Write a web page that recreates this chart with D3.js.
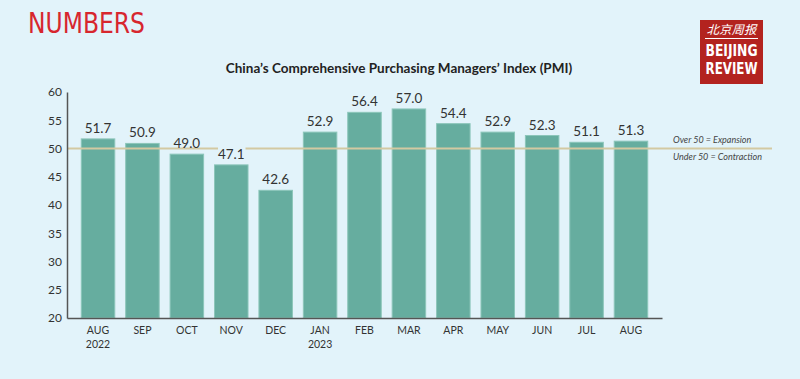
<!DOCTYPE html>
<html><head><meta charset="utf-8">
<script src="https://cdn.jsdelivr.net/npm/d3@7"></script>
<style>
html,body{margin:0;padding:0;background:#e2f3fa;}
svg{display:block;}
</style></head>
<body>
<svg id="c" width="800" height="379"></svg>
<script>
const months = ["AUG","SEP","OCT","NOV","DEC","JAN","FEB","MAR","APR","MAY","JUN","JUL","AUG "];
const years = ["2022","","","","","2023","","","","","","",""];
const pmi = [51.7,50.9,49.0,47.1,42.6,52.9,56.4,57.0,54.4,52.9,52.3,51.1,51.3];
const yTicks = [20,25,30,35,40,45,50,55,60];
const threshold = 50;
const title = "China\u2019s Comprehensive Purchasing Managers\u2019 Index (PMI)";
const notes = ["Over 50 = Expansion","Under 50 = Contraction"];

const svg = d3.select("#c");
svg.append("rect").attr("width",800).attr("height",379).attr("fill","#e2f3fa");

// Header
svg.append("text").attr("x",28).attr("y",33).text("NUMBERS")
  .attr("font-family","'Liberation Sans Narrow','DejaVu Sans Condensed',sans-serif")
  .attr("font-size",29).attr("fill","#d7262e").attr("textLength",117).attr("lengthAdjust","spacingAndGlyphs");

// Logo
const lg = svg.append("g");
lg.append("rect").attr("x",700).attr("y",20).attr("width",63).attr("height",64).attr("fill","#b3231f");
lg.append("text").attr("x",731.5).attr("y",34).attr("text-anchor","middle").text("北京周报")
  .attr("font-family","'Noto Sans CJK SC',sans-serif").attr("font-size",12).attr("font-style","italic").attr("fill","#fff")
  .attr("textLength",50).attr("lengthAdjust","spacingAndGlyphs");
lg.append("line").attr("x1",705).attr("x2",758).attr("y1",38.5).attr("y2",38.5).attr("stroke","#fff").attr("stroke-width",1);
lg.append("text").attr("x",731.5).attr("y",56).attr("text-anchor","middle").text("BEIJING")
  .attr("font-family","'DejaVu Sans Condensed',sans-serif").attr("font-weight","bold").attr("font-size",16).attr("fill","#fff")
  .attr("textLength",52).attr("lengthAdjust","spacingAndGlyphs");
lg.append("text").attr("x",731.5).attr("y",74).attr("text-anchor","middle").text("REVIEW")
  .attr("font-family","'DejaVu Sans Condensed',sans-serif").attr("font-weight","bold").attr("font-size",16).attr("fill","#fff")
  .attr("textLength",52).attr("lengthAdjust","spacingAndGlyphs");

// Title
svg.append("text").attr("x",399).attr("y",73).attr("text-anchor","middle").text(title)
  .attr("font-family","Lato,sans-serif").attr("font-weight","bold").attr("font-size",13.5).attr("fill","#222");

const x = d3.scaleBand().domain(months).range([67,662]).paddingInner(0.223).paddingOuter(0.31);
const y = d3.scaleLinear().domain([20,60]).range([318,92]);

// Bars
svg.append("g").selectAll("rect").data(pmi).join("rect")
  .attr("x",(d,i)=>x(months[i])+0.5).attr("width",x.bandwidth()-1)
  .attr("y",d=>y(d)).attr("height",d=>y(20)-y(d))
  .attr("fill","#66ad9f").attr("stroke","#8cc6ba").attr("stroke-width",1);

// Threshold line (gap behind the NOV label)
const gapIdx = 3;
const gx0 = x(months[gapIdx])+4, gx1 = x(months[gapIdx])+x.bandwidth()-3;
[[x.range()[0],gx0],[gx1,772]].forEach(s=>{
  svg.append("line").attr("x1",s[0]).attr("x2",s[1]).attr("y1",y(threshold)).attr("y2",y(threshold))
    .attr("stroke","#d3c9a2").attr("stroke-width",2);
});

// Value labels
svg.append("g").selectAll("text").data(pmi).join("text")
  .attr("x",(d,i)=>x(months[i])+x.bandwidth()/2).attr("y",d=>y(d)-6)
  .attr("text-anchor","middle").text(d=>d.toFixed(1))
  .attr("font-family","Lato,sans-serif").attr("font-size",13.5).attr("fill","#333");

// Axes
const yAxis = d3.axisLeft(y).tickValues(yTicks).tickSize(0).tickPadding(5);
const yg = svg.append("g").attr("transform","translate(67,0)").call(yAxis);
yg.select(".domain").attr("stroke","#555").attr("stroke-width",1.5);
yg.selectAll("text").attr("font-family","Lato,sans-serif").attr("font-size",12).attr("fill","#333");

const xAxis = d3.axisBottom(x).tickSize(0).tickPadding(8).tickFormat(d=>d.trim());
const xg = svg.append("g").attr("transform","translate(0,318)").call(xAxis);
xg.select(".domain").attr("stroke","#555").attr("stroke-width",1.5);
xg.selectAll("text").attr("font-family","Lato,sans-serif").attr("font-size",10.5).attr("fill","#333")
  .attr("y",16).attr("dy",0);
svg.append("g").selectAll("text").data(years).join("text")
  .attr("x",(d,i)=>x(months[i])+x.bandwidth()/2).attr("y",348)
  .attr("text-anchor","middle").text(d=>d)
  .attr("font-family","Lato,sans-serif").attr("font-size",10.5).attr("fill","#333");

// Notes
notes.forEach((t,i)=>{
  svg.append("text").attr("x",673).attr("y",y(threshold)-6+i*17).text(t)
    .attr("font-family","Lato,sans-serif").attr("font-style","italic").attr("font-size",9).attr("fill","#444");
});
</script>
</body></html>
